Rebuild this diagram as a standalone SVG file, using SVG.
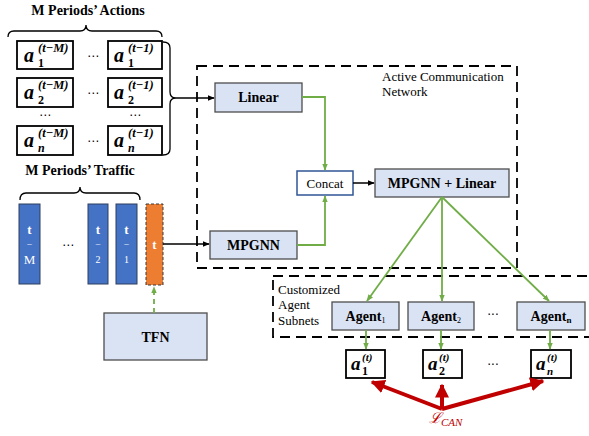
<svg xmlns="http://www.w3.org/2000/svg" width="589" height="436" viewBox="0 0 589 436">
  <defs>
    <style>
      .title { font-family: "Liberation Serif", serif; font-weight: bold; font-size: 14px; text-anchor: middle; }
      .label { font-family: "Liberation Serif", serif; font-size: 13px; }
      .blk { font-family: "Liberation Serif", serif; font-weight: bold; font-size: 14px; text-anchor: middle; }
      .mod { fill: #dae3f3; stroke: #4d4d4d; stroke-width: 1.3; }
      .act { fill: #ffffff; stroke: #000000; stroke-width: 1.8; }
      .brace { fill: none; stroke: #000000; stroke-width: 1.3; }
      .dash { fill: none; stroke: #000000; stroke-width: 1.8; stroke-dasharray: 10 6; }
      .var { font-family: "Liberation Serif", serif; font-weight: bold; font-style: italic; }
      .sup { font-family: "Liberation Serif", serif; font-weight: bold; font-style: italic; font-size: 12.5px; }
      .sub { font-family: "Liberation Serif", serif; font-weight: bold; font-size: 12px; }
      .bar { fill: #4472c4; stroke: #2f3f5f; stroke-width: 1; }
      .bartxt { font-family: "Liberation Serif", serif; fill: #ffffff; text-anchor: middle; }
      .green { fill: none; stroke: #70ad47; stroke-width: 1.8; }
      .black { fill: none; stroke: #000000; stroke-width: 1.5; }
      .red { fill: none; stroke: #c00000; stroke-width: 4; }
      .dots { font-family: "DejaVu Sans", sans-serif; font-size: 12px; text-anchor: middle; }
    </style>
    <marker id="arrowBlack" viewBox="0 0 10 10" refX="9" refY="5" markerWidth="7" markerHeight="7" markerUnits="userSpaceOnUse" orient="auto">
      <path d="M0,1 L10,5 L0,9 z" fill="#000000"/>
    </marker>
    <marker id="arrowGreen" viewBox="0 0 10 10" refX="9" refY="5" markerWidth="7" markerHeight="7" markerUnits="userSpaceOnUse" orient="auto">
      <path d="M0,1 L10,5 L0,9 z" fill="#70ad47"/>
    </marker>
    <marker id="arrowRed" viewBox="0 0 10 10" refX="9" refY="5" markerWidth="14" markerHeight="14" markerUnits="userSpaceOnUse" orient="auto">
      <path d="M0,0 L10,5 L0,10 z" fill="#c00000"/>
    </marker>
  </defs>

  <rect width="589" height="436" fill="#ffffff"/>

  <!-- Past actions -->
  <g id="actions">
    <text class="title" x="88" y="15">M Periods’ Actions</text>
    <path class="brace" d="M8,37 Q8,31 14,31 L80,31 Q86,31 86,25 Q86,31 92,31 L156,31 Q162,31 162,37"/>
    <!-- row 1 -->
    <rect class="act" x="17" y="41" width="56" height="28"/>
    <text class="var" x="24" y="62" font-size="20">a</text>
    <text class="sup" x="38" y="52">(t−M)</text>
    <text class="sub" x="38" y="67">1</text>
    <text class="dots" x="93" y="60">⋯</text>
    <rect class="act" x="108" y="41" width="54" height="28"/>
    <text class="var" x="114" y="62" font-size="20">a</text>
    <text class="sup" x="128" y="52">(t−1)</text>
    <text class="sub" x="128" y="67">1</text>
    <!-- row 2 -->
    <rect class="act" x="17" y="78" width="56" height="29"/>
    <text class="var" x="24" y="99" font-size="20">a</text>
    <text class="sup" x="38" y="89">(t−M)</text>
    <text class="sub" x="38" y="104">2</text>
    <text class="dots" x="93" y="97">⋯</text>
    <rect class="act" x="108" y="78" width="54" height="29"/>
    <text class="var" x="114" y="99" font-size="20">a</text>
    <text class="sup" x="128" y="89">(t−1)</text>
    <text class="sub" x="128" y="104">2</text>
    <!-- vertical ellipsis row -->
    <text class="dots" x="45" y="119">⋯</text>
    <text class="dots" x="135" y="119">⋯</text>
    <!-- row n -->
    <rect class="act" x="17" y="126" width="56" height="29"/>
    <text class="var" x="24" y="147" font-size="20">a</text>
    <text class="sup" x="38" y="137">(t−M)</text>
    <text class="var" x="38" y="152" font-size="12">n</text>
    <text class="dots" x="93" y="145">⋯</text>
    <rect class="act" x="108" y="126" width="54" height="29"/>
    <text class="var" x="114" y="147" font-size="20">a</text>
    <text class="sup" x="128" y="137">(t−1)</text>
    <text class="var" x="128" y="152" font-size="12">n</text>
    <path class="brace" d="M163,42 Q170,42 170,48 L170,92 Q170,98 176,98 Q170,98 170,104 L170,149 Q170,155 163,155"/>
  </g>

  <!-- Past traffic -->
  <g id="traffic">
    <text class="title" x="80" y="175">M Periods’ Traffic</text>
    <path class="brace" d="M20,200 Q20,193 26,193 L74,193 Q80,193 80,187 Q80,193 86,193 L134,193 Q140,193 140,200"/>
    <rect class="bar" x="19" y="204" width="21" height="80"/>
    <text class="bartxt" x="29.5" y="234" font-size="13" font-weight="bold">t</text>
    <text class="bartxt" x="29.5" y="246" font-size="9">–</text>
    <text class="bartxt" x="29.5" y="264" font-size="13">M</text>
    <text class="dots" x="68" y="249">⋯</text>
    <rect class="bar" x="88" y="204" width="20" height="80"/>
    <text class="bartxt" x="98" y="234" font-size="13" font-weight="bold">t</text>
    <text class="bartxt" x="98" y="246" font-size="9">–</text>
    <text class="bartxt" x="98" y="263" font-size="10">2</text>
    <rect class="bar" x="116" y="204" width="21" height="80"/>
    <text class="bartxt" x="126.5" y="234" font-size="13" font-weight="bold">t</text>
    <text class="bartxt" x="126.5" y="246" font-size="9">–</text>
    <text class="bartxt" x="126.5" y="263" font-size="10">1</text>
  </g>

  <g id="current">
    <rect x="146" y="204" width="17" height="81" fill="#ed7d31" stroke="#3a3a3a" stroke-width="1" stroke-dasharray="3 2"/>
    <text class="bartxt" x="154.5" y="249" font-size="13" font-weight="bold">t</text>
  </g>

  <g id="tfn">
    <rect class="mod" x="104" y="313" width="103" height="47"/>
    <text class="blk" x="155.5" y="342">TFN</text>
  </g>

  <!-- Active communication network -->
  <g id="acn">
    <rect class="dash" x="197" y="66" width="320" height="202"/>
    <text class="label" x="382" y="81">Active Communication</text>
    <text class="label" x="382" y="96">Network</text>
  </g>

  <g id="linear">
    <rect class="mod" x="215" y="83" width="87" height="29"/>
    <text class="blk" x="258.5" y="102">Linear</text>
  </g>

  <g id="mpgnn">
    <rect class="mod" x="210" y="231" width="87" height="28"/>
    <text class="blk" x="253.5" y="250" font-size="13">MPGNN</text>
  </g>

  <g id="concat">
    <rect x="297" y="171" width="56" height="24" fill="#ffffff" stroke="#2f5597" stroke-width="1.5"/>
    <text class="label" x="325" y="188" text-anchor="middle" font-size="14">Concat</text>
  </g>

  <g id="mpgnn-linear">
    <rect class="mod" x="375" y="169" width="134" height="28"/>
    <text class="blk" x="442" y="188" font-size="13">MPGNN + Linear</text>
  </g>

  <!-- Customized agent subnets -->
  <g id="subnets">
    <rect class="dash" x="273" y="276" width="330" height="61"/>
    <text class="label" x="278" y="294">Customized</text>
    <text class="label" x="278" y="309">Agent</text>
    <text class="label" x="278" y="325">Subnets</text>
  </g>

  <g id="agent1">
    <rect class="mod" x="332" y="302" width="67" height="28"/>
    <text class="blk" x="365.5" y="321">Agent<tspan font-size="8" font-weight="normal" dy="2">1</tspan></text>
  </g>
  <g id="agent2">
    <rect class="mod" x="408" y="302" width="66" height="28"/>
    <text class="blk" x="441" y="321">Agent<tspan font-size="8" font-weight="normal" dy="2">2</tspan></text>
  </g>
  <text class="dots" x="493" y="319">···</text>
  <g id="agentn">
    <rect class="mod" x="517" y="302" width="68" height="28"/>
    <text class="blk" x="551" y="321">Agent<tspan font-size="9" dy="2">n</tspan></text>
  </g>

  <!-- Current actions -->
  <g id="out1">
    <rect class="act" x="346" y="350" width="39" height="28"/>
    <text class="var" x="351" y="370" font-size="19">a</text>
    <text class="var" x="362" y="361" font-size="11">(t)</text>
    <text class="sub" x="362" y="375" font-size="11">1</text>
  </g>
  <g id="out2">
    <rect class="act" x="423" y="350" width="39" height="28"/>
    <text class="var" x="428" y="370" font-size="19">a</text>
    <text class="var" x="439" y="361" font-size="11">(t)</text>
    <text class="sub" x="439" y="375" font-size="11">2</text>
  </g>
  <text class="dots" x="493" y="369">···</text>
  <g id="outn">
    <rect class="act" x="531" y="350" width="40" height="28"/>
    <text class="var" x="536" y="370" font-size="19">a</text>
    <text class="var" x="547" y="361" font-size="11">(t)</text>
    <text class="var" x="547" y="375" font-size="11">n</text>
  </g>

  <g id="loss">
    <text x="429" y="423" font-family="DejaVu Serif, serif" font-style="italic" font-size="15" fill="#c00000">ℒ<tspan font-family="Liberation Serif, serif" font-size="11" dy="3">CAN</tspan></text>
  </g>

  <!-- Connectors -->
  <g id="connectors">
    <path class="black" d="M176,98 L214,98" marker-end="url(#arrowBlack)"/>
    <path class="black" d="M163,244 L209,244" marker-end="url(#arrowBlack)"/>
    <path class="black" d="M353,183 L374,183" marker-end="url(#arrowBlack)"/>
    <path class="green" d="M154,313 L154,287" stroke-dasharray="5 4" marker-end="url(#arrowGreen)"/>
    <path class="green" d="M302,97 L325,97 L325,170" marker-end="url(#arrowGreen)"/>
    <path class="green" d="M297,245 L325,245 L325,196" marker-end="url(#arrowGreen)"/>
    <path class="green" d="M442,197 L367,301" marker-end="url(#arrowGreen)"/>
    <path class="green" d="M442,197 L442,301" marker-end="url(#arrowGreen)"/>
    <path class="green" d="M442,197 L549,301" marker-end="url(#arrowGreen)"/>
    <path class="green" d="M366,330 L366,349" marker-end="url(#arrowGreen)"/>
    <path class="green" d="M441,330 L441,349" marker-end="url(#arrowGreen)"/>
    <path class="green" d="M550,330 L550,349" marker-end="url(#arrowGreen)"/>
    <path class="red" d="M442,409 L372,382" marker-end="url(#arrowRed)"/>
    <path class="red" d="M442,409 L442,385" marker-end="url(#arrowRed)"/>
    <path class="red" d="M442,409 L543,381" marker-end="url(#arrowRed)"/>
  </g>
</svg>
